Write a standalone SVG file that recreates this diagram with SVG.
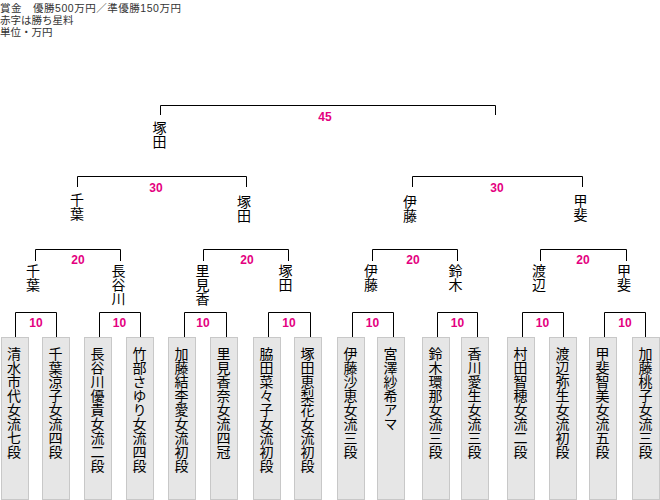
<svg xmlns="http://www.w3.org/2000/svg" width="660" height="500" viewBox="0 0 660 500">
<style>
.hd{font-family:"Liberation Sans","Noto Sans CJK JP",sans-serif;font-size:10.5px;fill:#333}
.nm{font-family:"Noto Sans CJK JP",sans-serif;font-size:14px;fill:#000;writing-mode:vertical-rl}
.sc{font-family:"Liberation Sans",Arial,sans-serif;font-size:12px;font-weight:bold;fill:#e4007f;text-anchor:middle}
.bx{fill:#e6e6e6;stroke:#c8c8c8;stroke-width:1}
.ln{fill:none;stroke:#000;stroke-width:1}
</style>
<rect width="660" height="500" fill="#fff"/>
<g id="header">
<text class="hd" x="0" y="12"><tspan x="0" y="12" textLength="181" lengthAdjust="spacing">賞金　優勝500万円／準優勝150万円</tspan><tspan x="0" y="24">赤字は勝ち星料</tspan><tspan x="0" y="36">単位・万円</tspan></text>
</g>
<g id="connectors">
<path class="ln" d="M160.5 115V105.5H495.5V115"/>
<path class="ln" d="M77.5 187V176.5H246.5V187"/>
<path class="ln" d="M412.5 187V176.5H582.5V187"/>
<path class="ln" d="M35.5 261V249.5H120.5V261"/>
<path class="ln" d="M203.5 261V249.5H288.5V261"/>
<path class="ln" d="M372.5 261V249.5H457.5V261"/>
<path class="ln" d="M540.5 261V249.5H626.5V261"/>
<path class="ln" d="M15.5 337V312.5H56.5V337"/>
<path class="ln" d="M99.5 337V312.5H140.5V337"/>
<path class="ln" d="M184.5 337V312.5H226.5V337"/>
<path class="ln" d="M268.5 337V312.5H310.5V337"/>
<path class="ln" d="M352.5 337V312.5H393.5V337"/>
<path class="ln" d="M437.5 337V312.5H477.5V337"/>
<path class="ln" d="M522.5 337V312.5H563.5V337"/>
<path class="ln" d="M604.5 337V312.5H645.5V337"/>
</g>
<g id="scores">
<text class="sc" x="325" y="121">45</text>
<text class="sc" x="156" y="192">30</text>
<text class="sc" x="497" y="192">30</text>
<text class="sc" x="78" y="264">20</text>
<text class="sc" x="247" y="264">20</text>
<text class="sc" x="413" y="264">20</text>
<text class="sc" x="583" y="264">20</text>
<text class="sc" x="36" y="327">10</text>
<text class="sc" x="119.5" y="327">10</text>
<text class="sc" x="203" y="327">10</text>
<text class="sc" x="289" y="327">10</text>
<text class="sc" x="372.5" y="327">10</text>
<text class="sc" x="457.5" y="327">10</text>
<text class="sc" x="542.5" y="327">10</text>
<text class="sc" x="625" y="327">10</text>
</g>
<g id="winner"><text class="nm" x="159.5" y="121">塚田</text></g>
<g id="sf1"><text class="nm" x="77" y="193">千葉</text></g>
<g id="sf2"><text class="nm" x="244" y="195">塚田</text></g>
<g id="sf3"><text class="nm" x="410" y="195">伊藤</text></g>
<g id="sf4"><text class="nm" x="580.5" y="194">甲斐</text></g>
<g id="qf1"><text class="nm" x="33" y="264">千葉</text></g>
<g id="qf2"><text class="nm" x="118.5" y="264">長谷川</text></g>
<g id="qf3"><text class="nm" x="202.5" y="264">里見香</text></g>
<g id="qf4"><text class="nm" x="285.5" y="264">塚田</text></g>
<g id="qf5"><text class="nm" x="371" y="264">伊藤</text></g>
<g id="qf6"><text class="nm" x="455.5" y="264">鈴木</text></g>
<g id="qf7"><text class="nm" x="539" y="264">渡辺</text></g>
<g id="qf8"><text class="nm" x="624" y="264">甲斐</text></g>
<g id="p1"><rect class="bx" x="1.5" y="337.5" width="27" height="162"/><text class="nm" x="14" y="347">清水市代女流七段</text></g>
<g id="p2"><rect class="bx" x="42.5" y="337.5" width="27" height="162"/><text class="nm" x="55.5" y="347">千葉涼子女流四段</text></g>
<g id="p3"><rect class="bx" x="84.5" y="337.5" width="27" height="162"/><text class="nm" x="97.5" y="347">長谷川優貴女流二段</text></g>
<g id="p4"><rect class="bx" x="126.5" y="337.5" width="27" height="162"/><text class="nm" x="139.5" y="347">竹部さゆり女流四段</text></g>
<g id="p5"><rect class="bx" x="168.5" y="337.5" width="27" height="162"/><text class="nm" x="181.5" y="347">加藤結李愛女流初段</text></g>
<g id="p6"><rect class="bx" x="210.5" y="337.5" width="27" height="162"/><text class="nm" x="223.5" y="347">里見香奈女流四冠</text></g>
<g id="p7"><rect class="bx" x="253.5" y="337.5" width="27" height="162"/><text class="nm" x="266.5" y="347">脇田菜々子女流初段</text></g>
<g id="p8"><rect class="bx" x="294.5" y="337.5" width="27" height="162"/><text class="nm" x="307.5" y="347">塚田恵梨花女流初段</text></g>
<g id="p9"><rect class="bx" x="337.5" y="337.5" width="27" height="162"/><text class="nm" x="350.5" y="347">伊藤沙恵女流三段</text></g>
<g id="p10"><rect class="bx" x="377.5" y="337.5" width="27" height="162"/><text class="nm" x="390.5" y="347">宮澤紗希アマ</text></g>
<g id="p11"><rect class="bx" x="422.5" y="337.5" width="27" height="162"/><text class="nm" x="435.5" y="347">鈴木環那女流三段</text></g>
<g id="p12"><rect class="bx" x="461.5" y="337.5" width="27" height="162"/><text class="nm" x="474.5" y="347">香川愛生女流三段</text></g>
<g id="p13"><rect class="bx" x="507.5" y="337.5" width="27" height="162"/><text class="nm" x="520.5" y="347">村田智穂女流二段</text></g>
<g id="p14"><rect class="bx" x="549.5" y="337.5" width="27" height="162"/><text class="nm" x="562.5" y="347">渡辺弥生女流初段</text></g>
<g id="p15"><rect class="bx" x="589.5" y="337.5" width="27" height="162"/><text class="nm" x="602.5" y="347">甲斐智美女流五段</text></g>
<g id="p16"><rect class="bx" x="632.5" y="337.5" width="27" height="162"/><text class="nm" x="645.5" y="347">加藤桃子女流三段</text></g>
</svg>
